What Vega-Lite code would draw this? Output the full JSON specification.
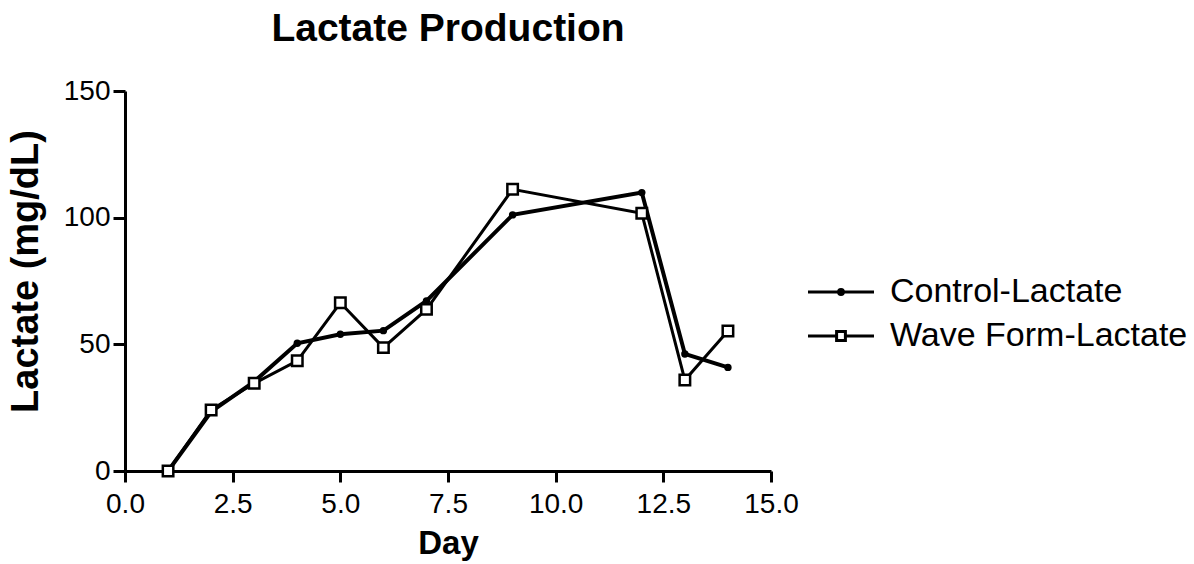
{
  "$schema": "https://vega.github.io/schema/vega-lite/v6.json",
  "autosize": {"type": "none"},
  "width": 646,
  "height": 380,
  "padding": {"left": 125, "top": 91, "right": 423, "bottom": 93},
  "background": "white",
  "config": {
    "view": {"stroke": null},
    "font": "Liberation Sans",
    "axis": {
      "grid": false,
      "domainColor": "black",
      "domainWidth": 3,
      "tickColor": "black",
      "tickWidth": 3,
      "labelColor": "black",
      "titleColor": "black",
      "labelFont": "Liberation Sans",
      "titleFont": "Liberation Sans",
      "titleFontWeight": "bold"
    }
  },
  "title": {
    "text": "Lactate Production",
    "font": "Liberation Sans",
    "fontSize": 39,
    "fontWeight": "bold",
    "color": "black",
    "anchor": "middle",
    "offset": 28
  },
  "data": {
    "values": [
      {"day": 1, "series": "Control-Lactate", "lactate": 0},
      {"day": 2, "series": "Control-Lactate", "lactate": 23.4},
      {"day": 3, "series": "Control-Lactate", "lactate": 35.3},
      {"day": 4, "series": "Control-Lactate", "lactate": 50.4},
      {"day": 5, "series": "Control-Lactate", "lactate": 54.0},
      {"day": 6, "series": "Control-Lactate", "lactate": 55.4},
      {"day": 7, "series": "Control-Lactate", "lactate": 67.1},
      {"day": 9, "series": "Control-Lactate", "lactate": 101.1},
      {"day": 12, "series": "Control-Lactate", "lactate": 109.9},
      {"day": 13, "series": "Control-Lactate", "lactate": 46.2},
      {"day": 14, "series": "Control-Lactate", "lactate": 40.9},
      {"day": 1, "series": "Wave Form-Lactate", "lactate": 0},
      {"day": 2, "series": "Wave Form-Lactate", "lactate": 24.1},
      {"day": 3, "series": "Wave Form-Lactate", "lactate": 34.6},
      {"day": 4, "series": "Wave Form-Lactate", "lactate": 43.5},
      {"day": 5, "series": "Wave Form-Lactate", "lactate": 66.4},
      {"day": 6, "series": "Wave Form-Lactate", "lactate": 48.7},
      {"day": 7, "series": "Wave Form-Lactate", "lactate": 63.8},
      {"day": 9, "series": "Wave Form-Lactate", "lactate": 111.2},
      {"day": 12, "series": "Wave Form-Lactate", "lactate": 101.7},
      {"day": 13, "series": "Wave Form-Lactate", "lactate": 35.9},
      {"day": 14, "series": "Wave Form-Lactate", "lactate": 55.3}
    ]
  },
  "encoding": {
    "x": {
      "field": "day",
      "type": "quantitative",
      "scale": {"domain": [0, 15], "nice": false, "zero": false},
      "axis": {
        "title": "Day",
        "values": [0, 2.5, 5, 7.5, 10, 12.5, 15],
        "format": ".1f",
        "labelFontSize": 28,
        "labelPadding": 8,
        "labelFlush": false,
        "tickSize": 11,
        "titleFontSize": 33,
        "titlePadding": 9
      }
    },
    "y": {
      "field": "lactate",
      "type": "quantitative",
      "scale": {"domain": [0, 150], "nice": false},
      "axis": {
        "title": "Lactate (mg/dL)",
        "values": [0, 50, 100, 150],
        "labelFontSize": 28,
        "labelPadding": 3,
        "tickSize": 12,
        "titleFontSize": 38,
        "titlePadding": 18,
        "titleY": 180
      }
    }
  },
  "layer": [
    {
      "transform": [{"filter": "datum.series === 'Wave Form-Lactate'"}],
      "mark": {"type": "line", "color": "black", "strokeWidth": 3}
    },
    {
      "transform": [{"filter": "datum.series === 'Control-Lactate'"}],
      "mark": {"type": "line", "color": "black", "strokeWidth": 4}
    },
    {
      "transform": [{"filter": "datum.series === 'Control-Lactate'"}],
      "mark": {"type": "point", "shape": "circle", "filled": true, "color": "black", "size": 55, "opacity": 1}
    },
    {
      "transform": [{"filter": "datum.series === 'Wave Form-Lactate'"}],
      "mark": {"type": "point", "shape": "square", "filled": false, "fill": "white", "stroke": "black", "strokeWidth": 2.5, "size": 110, "opacity": 1}
    },
    {
      "mark": {"type": "point", "color": "black", "opacity": 0},
      "encoding": {
        "shape": {
          "field": "series",
          "type": "nominal",
          "scale": {
            "domain": ["Control-Lactate", "Wave Form-Lactate"],
            "range": [
              "M-3,0H3M-0.22,0A0.22,0.22 0 1 1 0.22,0A0.22,0.22 0 1 1 -0.22,0Z",
              "M-3,0H-0.4M0.4,0H3M-0.4,-0.4H0.4V0.4H-0.4Z"
            ]
          },
          "legend": {
            "title": null,
            "orient": "none",
            "legendX": 699,
            "legendY": 184,
            "padding": 0,
            "symbolSize": 484,
            "symbolOpacity": 1,
            "symbolStrokeColor": "black",
            "symbolFillColor": "transparent",
            "symbolStrokeWidth": 3,
            "labelFont": "Liberation Sans",
            "labelFontSize": 34,
            "labelLimit": 0,
            "labelColor": "black",
            "labelOffset": 32,
            "rowPadding": 10
          }
        }
      }
    }
  ]
}
